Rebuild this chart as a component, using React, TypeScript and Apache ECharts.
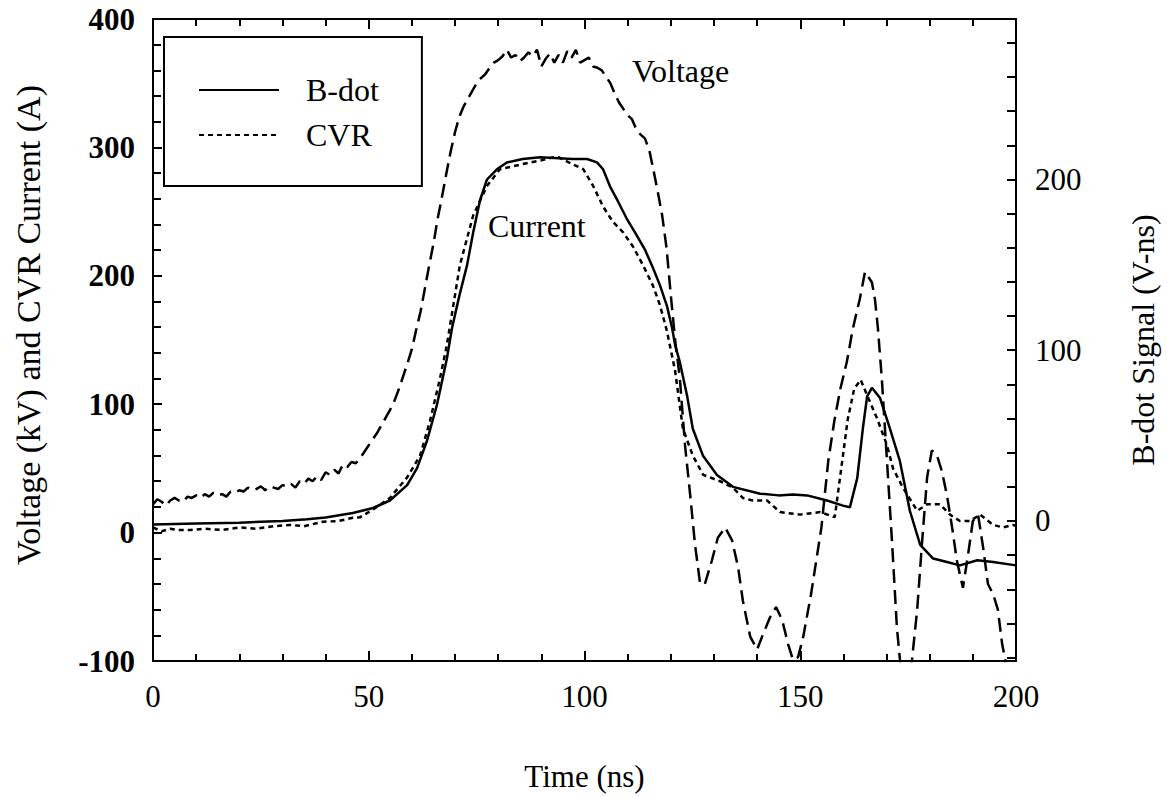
import React, { useEffect, useRef } from "react";
import * as echarts from "echarts";

// ---- Data ----
const voltageT = [0, 1, 2, 3, 4, 5, 6, 7, 8, 9, 10, 11, 12, 13, 14, 15, 16, 17, 18, 19, 20, 21, 22, 23, 24, 25, 26, 27, 28, 29, 30, 31, 32, 33, 34, 35, 36, 37, 38, 39, 40, 41, 42, 43, 44, 45, 46, 47, 48, 49, 50, 51, 52, 53, 54, 55, 56, 57, 58, 59, 60, 61, 62, 63, 64, 65, 66, 67, 68, 69, 70, 71, 72, 73, 74, 75, 76, 77, 78, 79, 80, 81, 82, 83, 84, 85, 86, 87, 88, 89, 90, 91, 92, 93, 94, 95, 96, 97, 98, 99, 100, 101, 102, 103, 104, 105, 106, 107, 108, 109, 110, 111, 112, 113, 114, 115, 116, 117, 118, 119, 120, 121, 122.1, 123.3, 124.5, 125.6, 126.8, 127.9, 129.5, 130.9, 132.6, 134.2, 135.6, 136.7, 138.4, 140, 141.4, 143, 144.4, 145.8, 147.2, 148.3, 149.5, 150.7, 152.5, 153.7, 154.9, 156.5, 157.9, 159.3, 160.8, 162.2, 163.8, 165, 166.6, 167.3, 168, 168.9, 170.1, 171.3, 172.4, 173.1, 174.5, 175.9, 177.1, 178.2, 179.4, 180.5, 181.7, 182.8, 184, 185.2, 186.3, 187.7, 188.9, 190, 191.2, 192.4, 193.5, 194.7, 195.8, 196.8, 197.5, 198.6];
const voltageV = [22, 26, 24, 21, 25, 27, 25, 24, 28, 27, 29, 27, 30, 28, 31, 29, 30, 28, 32, 31, 33, 32, 35, 33, 34, 36, 33, 36, 35, 34, 37, 36, 38, 35, 40, 38, 42, 40, 44, 41, 47, 45, 49, 46, 53, 51, 55, 54, 58, 63, 68, 73, 78, 84, 90, 96, 103, 112, 122, 132, 143, 158, 172, 190, 208, 225, 245, 262, 280, 297, 312, 324, 332, 338, 344, 350, 354, 357, 362, 366, 368, 371, 376, 370, 372, 367, 370, 374, 371, 376, 363, 369, 373, 366, 372, 366, 375, 370, 376, 366, 368, 370, 363, 362, 360, 355, 350, 342, 335, 330, 325, 322, 314, 310, 307, 298, 282, 265, 247, 222, 185, 150, 120, 68, 29, -9, -40, -40, -22, -4, 4, -6, -27, -53, -81, -91, -79, -66, -58, -68, -87, -99, -97, -81, -48, -22, 4, 56, 87, 112, 133, 159, 182, 203, 195, 182, 159, 120, 56, -9, -74, -99, -125, -99, -60, -9, 43, 64, 60, 48, 29, 4, -22, -43, -17, 9, 14, -12, -40, -48, -60, -87, -99, -130];

const bdotT = [0, 10, 20, 30, 35.7, 40, 46.3, 51, 54.9, 58.9, 61.2, 63.5, 65.8, 68.1, 69.3, 71, 72.8, 74.2, 75.8, 77.4, 79.7, 82, 85.7, 89.7, 97.3, 100.6, 102.9, 104.3, 105.9, 107.8, 109.8, 111.7, 114, 115.9, 117.5, 119.1, 120.3, 121, 122.1, 123.8, 125.1, 127.5, 130.7, 134.4, 140.7, 145, 148.3, 151.6, 156.2, 159.9, 161.5, 163.2, 164.5, 165.5, 166.6, 168.5, 170.8, 173.1, 175.4, 177.8, 180.8, 184, 187, 191, 194.7, 200];
const bdotV = [-2, -1.5, -1, 0, 1, 2, 4.7, 7.6, 12, 21, 31, 47, 68, 95, 113, 132, 150, 169, 188, 200, 206, 210, 212, 213, 212, 212, 210, 206, 196, 187, 177, 169, 159, 148, 138, 126, 113, 103, 93, 73, 54, 38, 27, 20, 16, 15, 15.5, 15, 12, 9, 8, 25, 54, 73, 78, 72, 54, 35, 6, -14, -22, -24, -26, -23, -24, -26, -27];

const cvrT = [0, 2, 4, 6, 8.6, 12, 16, 20.2, 24, 28, 31.7, 35, 39.4, 43, 46.3, 48, 51, 54.9, 58.9, 61.9, 64.2, 66.5, 68.1, 71.1, 74.2, 77.4, 80.4, 85.7, 90, 93.6, 96.6, 99.7, 102, 104.3, 106.6, 108.9, 111.2, 113.6, 115.9, 117.5, 119.1, 121, 122.8, 125.1, 127.5, 131.4, 134.4, 136.7, 139, 142.3, 145.3, 149.9, 154.6, 158, 159.5, 161, 162.5, 164, 165.5, 167.8, 170.1, 171.5, 173.8, 177.1, 179.4, 182.4, 184.7, 187, 189.3, 191.7, 194.7, 197, 199.3, 200];
const cvrV = [4, 1, 3, 2, 2, 3, 2, 4, 3, 5, 6, 5, 8.5, 9, 11.6, 12, 18, 27, 43, 60, 87, 120, 146, 208, 247, 270, 283, 287, 290, 293, 288, 283, 270, 254, 242, 234, 223, 208, 192, 177, 157, 126, 81, 60, 45, 40, 35, 27, 25, 25, 16, 14, 16, 12, 50, 88, 112, 119, 107, 89, 68, 50, 35, 17, 22, 22, 14, 9, 9, 14, 6, 4, 6, 5];

const leftTicks = [-100, 0, 100, 200, 300, 400];
const bottomTicks = [0, 50, 100, 150, 200];
const rightLabelValues = [0, 100, 200];
const rightTickValues = [-80, -60, -40, -20, 0, 20, 40, 60, 80, 100, 120, 140, 160, 180, 200, 220, 240, 260, 280];

const FONT = "'Liberation Serif', 'Times New Roman', Times, serif";

const pairs = (t: number[], v: number[]) => t.map((x, i) => [x, v[i]]);

export default function App() {
  const ref = useRef<HTMLDivElement>(null);
  useEffect(() => {
    if (!ref.current) return;
    const chart = echarts.init(ref.current, undefined, { renderer: "svg" });
    const axisLine = { show: true, onZero: false, lineStyle: { color: "#000", width: 2 } };
    chart.setOption({
      animation: false,
      backgroundColor: "#fff",
      grid: { left: 153, right: 151, top: 19, bottom: 133, containLabel: false },
      legend: {
        data: ["B-dot", "CVR"],
        orient: "vertical",
        left: 164,
        top: 37,
        padding: [37, 43, 35, 34],
        itemWidth: 80,
        itemHeight: 32,
        itemGap: 13,
        borderColor: "#000",
        borderWidth: 2,
        selectedMode: false,
        itemStyle: { opacity: 0 },
        textStyle: { fontFamily: FONT, fontSize: 32, color: "#000", padding: [0, 0, 0, 22] },
      },
      xAxis: [
        {
          type: "value",
          min: bottomTicks[0],
          max: bottomTicks[bottomTicks.length - 1],
          interval: 50,
          position: "bottom",
          name: "Time (ns)",
          nameLocation: "middle",
          nameGap: 100,
          nameTextStyle: { fontFamily: FONT, fontSize: 31, color: "#000" },
          axisLine,
          axisTick: { show: true, inside: true, length: 10, lineStyle: { color: "#000", width: 2 } },
          minorTick: { show: true, splitNumber: 5, length: 7, lineStyle: { color: "#000", width: 2 } },
          axisLabel: { fontFamily: FONT, fontSize: 31, color: "#000", margin: 20 },
          splitLine: { show: false },
        },
        {
          type: "value",
          min: 0,
          max: 200,
          interval: 50,
          position: "top",
          axisLine,
          axisTick: { show: true, inside: true, length: 10, lineStyle: { color: "#000", width: 2 } },
          minorTick: { show: true, splitNumber: 5, length: 7, lineStyle: { color: "#000", width: 2 } },
          axisLabel: { show: false },
          splitLine: { show: false },
        },
      ],
      yAxis: [
        {
          type: "value",
          min: leftTicks[0],
          max: leftTicks[leftTicks.length - 1],
          interval: 100,
          position: "left",
          axisLine,
          axisTick: { show: true, inside: true, length: 9, lineStyle: { color: "#000", width: 2 } },
          minorTick: { show: true, splitNumber: 5, length: 8, lineStyle: { color: "#000", width: 2 } },
          axisLabel: { fontFamily: FONT, fontSize: 31, fontWeight: "bold", color: "#000", margin: 18 },
          splitLine: { show: false },
        },
        {
          type: "value",
          min: -82,
          max: 294,
          position: "right",
          axisLine,
          axisTick: { show: true, inside: true, length: 9, customValues: rightTickValues, lineStyle: { color: "#000", width: 2 } },
          axisLabel: { fontFamily: FONT, fontSize: 31, color: "#000", margin: 19, customValues: rightLabelValues },
          splitLine: { show: false },
        },
      ],
      graphic: [
        {
          type: "text",
          x: 28,
          y: 325,
          rotation: Math.PI / 2,
          style: { text: "Voltage (kV) and CVR Current (A)", font: "34px " + FONT, fill: "#000", align: "center", verticalAlign: "middle" },
        },
        {
          type: "text",
          x: 1143,
          y: 340,
          rotation: Math.PI / 2,
          style: { text: "B-dot Signal (V-ns)", font: "32px " + FONT, fill: "#000", align: "center", verticalAlign: "middle" },
        },
        {
          type: "text",
          x: 632,
          y: 71,
          style: { text: "Voltage", font: "32px " + FONT, fill: "#000", align: "left", verticalAlign: "middle" },
        },
        {
          type: "text",
          x: 488,
          y: 226,
          style: { text: "Current", font: "32px " + FONT, fill: "#000", align: "left", verticalAlign: "middle" },
        },
      ],
      series: [
        {
          name: "Voltage",
          type: "line",
          xAxisIndex: 0,
          yAxisIndex: 0,
          data: pairs(voltageT, voltageV),
          symbol: "none",
          showSymbol: false,
          clip: true,
          lineStyle: { color: "#000", width: 2.5, type: [14, 7] },
        },
        {
          name: "B-dot",
          type: "line",
          xAxisIndex: 0,
          yAxisIndex: 1,
          data: pairs(bdotT, bdotV),
          symbol: "none",
          showSymbol: false,
          clip: true,
          itemStyle: { color: "#000" },
          lineStyle: { color: "#000", width: 2.5, type: "solid" },
        },
        {
          name: "CVR",
          type: "line",
          xAxisIndex: 0,
          yAxisIndex: 0,
          data: pairs(cvrT, cvrV),
          symbol: "none",
          showSymbol: false,
          clip: true,
          itemStyle: { color: "#000" },
          lineStyle: { color: "#000", width: 2.5, type: [5, 4] },
        },
      ],
    });
    return () => chart.dispose();
  }, []);
  return (
    <div
      ref={ref}
      style={{ position: "fixed", left: 0, top: 0, width: 1167, height: 797, background: "#fff" }}
    />
  );
}
